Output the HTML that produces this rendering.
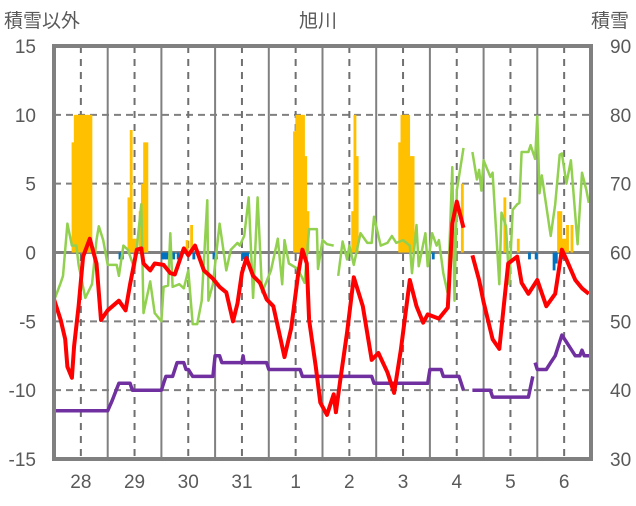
<!DOCTYPE html>
<html><head><meta charset="utf-8"><style>
html,body{margin:0;padding:0;background:#fff;}
body{width:636px;height:501px;overflow:hidden;font-family:"Liberation Sans","Noto Sans CJK JP",sans-serif;}
text{font-family:"Liberation Sans","Noto Sans CJK JP",sans-serif;fill:#595959;}
</style></head><body>
<svg id="chart" width="636" height="501" viewBox="0 0 636 501" xmlns="http://www.w3.org/2000/svg">
<g id="grid"></g>
<g id="bars"></g>
<g id="lines"></g>
<rect x="54" y="46" width="537" height="413" fill="none" stroke="#808080" stroke-width="4"/>
<g id="axes"></g>
<text x="4" y="27" font-size="19">積雪以外</text>
<text x="318" y="27" font-size="19" text-anchor="middle">旭川</text>
<text x="591" y="27" font-size="19">積雪</text>
</svg>
<script>
const dayLabels=["28","29","30","31","1","2","3","4","5","6"];
const leftTicks=[15,10,5,0,-5,-10,-15];
const rightTicks=[90,80,70,60,50,40,30];
const tempH=[0,3,5,6,8,9,11,13,16,19,21,24,29,32,34,37,39,40,43,45,49,52,54,58,60,63,67,71,74,77,80,82,84,86,89,92,95,98,101,103,106,109,111,113,114,117,119,122,125,126,128,131,134,138,142,145,149,152,155,159,162,165,167,172,176,178,180,183,184,187,190,192,196,199,203,207,209,212,216,220,224,227,229,233,236,239];
const tempV=[-3.4,-4.9,-6.3,-8.3,-9.1,-6.8,-3.9,-0.3,1.0,-0.8,-4.9,-4.2,-3.5,-4.2,-2.3,0.2,0.3,-0.8,-1.3,-0.8,-0.9,-1.5,-1.6,0.3,-0.2,0.5,-1.3,-1.9,-2.5,-2.9,-5.0,-3.7,-1.5,-0.4,-1.7,-2.2,-3.4,-3.9,-6.1,-7.6,-5.5,-1.7,0.2,-0.8,-4.9,-8.3,-10.9,-11.8,-10.3,-11.6,-9.2,-5.8,-1.8,-3.9,-7.8,-7.3,-8.7,-10.2,-7.1,-2.0,-3.9,-5.1,-4.5,-4.8,-4.0,2.1,3.7,1.8,null,-0.2,-2.0,-3.6,-6.3,-7.0,-0.8,-0.3,-2.2,-3.0,-2.0,-3.9,-3.0,0.2,-0.5,-2.0,-2.6,-3.0];
const greenH=[0,3,4,6,8,10,11,14,17,19,20,22,24,28,29,31,33,36,39,40,43,45,48,49,51,52,53,56,58,60,62,64,66,68.5,69,71,74,77,79,82,83,85,87,89,91,93,97,100,102,103,105,109,112,114,117.5,118,120,122,125,126,127,129,131,132,134,137,140,142,143,146,149,151,153,156,159,160,162,163,166,167,169,171,172,174,176,178,179,180,183,185,187,189,190,191,192,195,196,198,199,200,202,203.5,205,207,208,209,212,213,215,216,217,218,222,224,226,227,229,231,234,236,238,239];
const greenV=[-3.5,-2.2,-1.7,2.1,0.5,0.5,-0.9,-3.3,-2.3,0.9,1.9,0.9,-0.9,-0.9,-1.7,0.5,0.2,-1.2,3.5,-4.4,-2.1,-4.4,-5.0,-2.5,-2.4,1.4,-2.5,-2.3,-2.6,-1.3,-5.2,-5.2,-3.5,3.8,-3.5,-2.3,2.1,-1.3,0.2,0.7,0.5,1.2,4.0,-3.3,4.0,-2.9,-1.3,1.0,-2.3,0.9,-0.8,-1.2,-2.2,1.7,1.7,-1.2,0.9,0.6,0.5,null,-1.7,0.8,-0.5,0.5,-0.9,1.4,0.7,0.7,2.6,0.5,0.7,1.2,0.7,0.9,0.5,-1.5,2.0,-1.0,1.4,-1.0,1.4,0.5,0.9,-1.5,-3.0,6.2,-3.5,4.5,7.6,null,7.3,5.3,6.0,4.5,6.7,5.5,5.8,0.5,-2.3,2.9,1.9,-2.3,3.1,3.5,3.6,7.3,7.3,7.8,6.8,9.9,4.3,5.6,1.2,3.5,7.1,7.2,5.0,6.7,0.6,5.8,4.5,3.6];
const snowH=[0,24,26,29,34,35,48,49,50,53,55,58,59,60,62,71,72,74,75,84,84.5,85,95,96,110,111,142,143,167,168,173,174,181,183,185,187,195,196,212,214,214.5,215,216,220,222,224,227,229,231,233,235,236,237,240];
const snowV=[37,37,38.5,41,41,40,40,41,42,42,44,44,43,43,42,42,45,45,44,44,45,44,44,43,43,42,42,41,41,43,43,42,42,40,null,40,40,39,39,42,null,44,43,43,44,45,48,47,46,45,45,45.8,45,45];
const orangeH=[8,9,10,11,12,13,14,15,16,33,34,35,36,38,39,40,41,59,61,107,108,109,110,111,112,113,133,134,135,154,155,156,157,158,159,160,182,201,207,225,226,227,228,229,231];
const orangeV=[8,10,10,10,10,10,10,10,10,4,8.9,1,1,3,5,8,8,0.9,2,8.8,10,10,10,10,7,3,3,10,7,8,10,10,10,10,7,7,5,4,1,3,3,1,1,2,2];
const blueH=[29,30,48,49,50,51,52,53,55,62,71,72,84,85,86,169,212,215,223,224,227];
const blueV=[-0.5,-0.5,-0.5,-0.5,-0.5,-0.5,-0.5,-0.5,-0.5,-0.5,-0.5,-0.5,-0.5,-0.5,-0.5,-0.5,-0.5,-0.5,-1.3,-0.8,-0.5];

const NS="http://www.w3.org/2000/svg";
const X0=54,X1=591,Y0=46,Y1=459;
const xOf=h=>X0+h*(X1-X0)/240;
const yL=v=>Y1-(v+15)*(Y1-Y0)/30;
const yR=v=>Y1-(v-30)*(Y1-Y0)/60;
function mk(tag,attrs,parent){const e=document.createElementNS(NS,tag);for(const k in attrs)e.setAttribute(k,attrs[k]);parent.appendChild(e);return e;}
const grid=document.getElementById('grid'),bars=document.getElementById('bars'),lines=document.getElementById('lines'),axes=document.getElementById('axes');
leftTicks.forEach(t=>{if(t===15||t===-15)return;
  const l=mk('line',{x1:X0,x2:X1,y1:yL(t),y2:yL(t),stroke:'#808080','stroke-width':t===0?3:2,'stroke-dasharray':t===0?'':'7 5'},grid);
  
  });
dayLabels.forEach((d,i)=>{
  if(i>0){const s=mk('line',{x1:xOf(i*24),x2:xOf(i*24),y1:Y0,y2:Y1,stroke:'#808080','stroke-width':2},grid);
    
    }
  const m=mk('line',{x1:xOf(i*24+12),x2:xOf(i*24+12),y1:Y0,y2:Y1,stroke:'#707070','stroke-width':2,'stroke-dasharray':'7 6'},grid);
  
  
  const t=mk('text',{x:xOf(i*24+12),y:488,'font-size':19,'text-anchor':'middle'},axes);t.textContent=d;
  
  });
leftTicks.forEach(v=>{const t=mk('text',{x:36,y:yL(v)+7,'font-size':19,'text-anchor':'end'},axes);t.textContent=v;
  
  });
rightTicks.forEach(v=>{const t=mk('text',{x:610,y:yR(v)+7,'font-size':19},axes);t.textContent=v;
  
  });
const bw=(X1-X0)/240;
orangeH.forEach((h,i)=>{const v=orangeV[i];const r=mk('rect',{x:xOf(h)-0.3,y:yL(v),width:bw+0.6,height:yL(0)-yL(v),fill:'#ffc000'},bars);
  
  });
blueH.forEach((h,i)=>{const v=blueV[i];const r=mk('rect',{x:xOf(h)-0.3,y:yL(0),width:bw+0.6,height:yL(v)-yL(0),fill:'#0070c0'},bars);
  
  });
function pathOf(H,V,yf){let d='',pen=false;H.forEach((h,i)=>{const v=V[i];if(v===null){pen=false;return;}d+=(pen?'L':'M')+xOf(h).toFixed(1)+' '+yf(v).toFixed(1)+' ';pen=true;});return d;}
const g=mk('path',{d:pathOf(greenH,greenV,yL),fill:'none',stroke:'#92d050','stroke-width':2.5,'stroke-linejoin':'round'},lines);


const p=mk('path',{d:pathOf(snowH,snowV,yR),fill:'none',stroke:'#7030a0','stroke-width':3.5,'stroke-linejoin':'round'},lines);


const r=mk('path',{d:pathOf(tempH,tempV,yL),fill:'none',stroke:'#ff0000','stroke-width':4,'stroke-linejoin':'round'},lines);


</script>
</body></html>
